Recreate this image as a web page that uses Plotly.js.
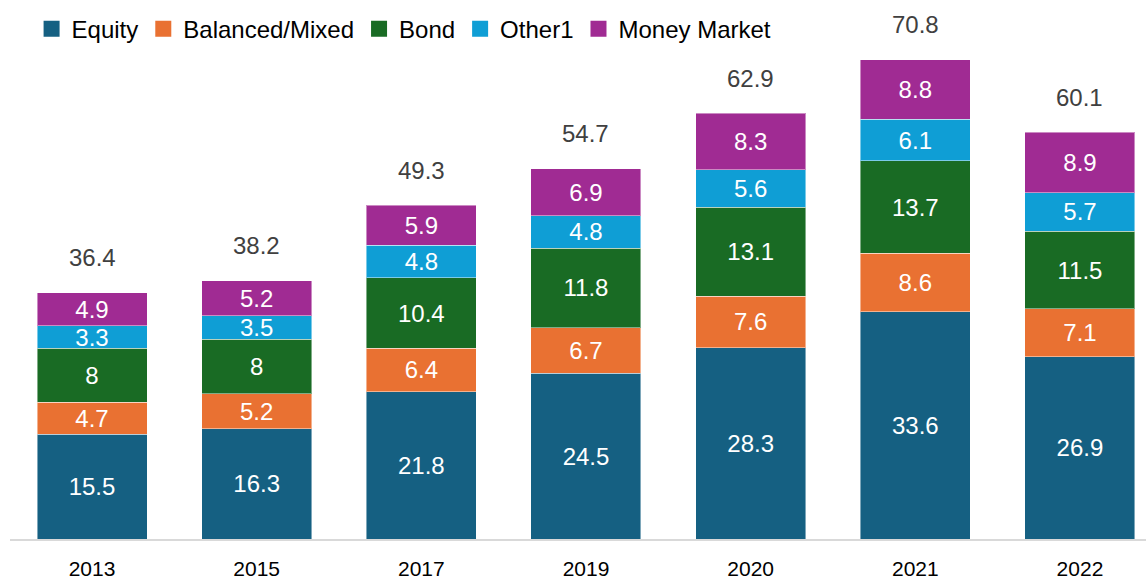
<!DOCTYPE html>
<html>
<head>
<meta charset="utf-8">
<script src="https://cdn.plot.ly/plotly-3.0.1.min.js"></script>
<style>html,body{margin:0;padding:0;background:#fff;}#chart{width:1146px;height:579px;}</style>
</head>
<body>
<div id="chart"></div>
<script>
const years = ["2013", "2015", "2017", "2019", "2020", "2021", "2022"];
const equity = [15.5, 16.3, 21.8, 24.5, 28.3, 33.6, 26.9];
const balanced = [4.7, 5.2, 6.4, 6.7, 7.6, 8.6, 7.1];
const bond = [8, 8, 10.4, 11.8, 13.1, 13.7, 11.5];
const other1 = [3.3, 3.5, 4.8, 4.8, 5.6, 6.1, 5.7];
const moneyMarket = [4.9, 5.2, 5.9, 6.9, 8.3, 8.8, 8.9];
const totals = [36.4, 38.2, 49.3, 54.7, 62.9, 70.8, 60.1];

const seriesNames = ["Equity", "Balanced/Mixed", "Bond", "Other1", "Money Market"];
const seriesValues = [equity, balanced, bond, other1, moneyMarket];
const seriesColors = ["#156082", "#E97132", "#196B24", "#0F9ED5", "#A02B93"];

const FONT = "Liberation Sans, Arial, sans-serif";
const traces = [];
seriesNames.forEach((name, i) => {
  traces.push({
    type: "bar", name: name, x: years, y: seriesValues[i],
    marker: {color: seriesColors[i], line: {color: "rgba(255,255,255,0.45)", width: 1}},
    text: seriesValues[i].map(String), textposition: "inside", insidetextanchor: "middle",
    constraintext: "none", textfont: {color: "#FFFFFF", size: 24, family: FONT},
    showlegend: false, hoverinfo: "skip"
  });
});
seriesNames.forEach((name, i) => {
  traces.push({
    type: "scatter", mode: "markers", name: name, x: [null], y: [null],
    marker: {color: seriesColors[i], symbol: "square", size: 16},
    showlegend: true, hoverinfo: "skip"
  });
});

const annotations = years.map((yr, i) => ({
  x: i, y: totals[i], xref: "x", yref: "y", text: totals[i].toFixed(1),
  showarrow: false, xanchor: "center", yanchor: "middle", yshift: 35,
  font: {size: 24, color: "#404040", family: FONT}
}));

const layout = {
  width: 1146, height: 579,
  margin: {l: 10, r: 0, t: 0, b: 40},
  paper_bgcolor: "#FFFFFF", plot_bgcolor: "#FFFFFF",
  barmode: "stack", bargap: 0.332,
  font: {family: FONT, color: "#000000"},
  xaxis: {
    type: "category", range: [-0.498, 6.401], showgrid: false, zeroline: false,
    showline: true, linecolor: "#D9D9D9", linewidth: 2, ticks: "",
    tickfont: {size: 21, color: "#000000", family: FONT}, ticklabelstandoff: 10
  },
  yaxis: {range: [0, 79.66], visible: false, showgrid: false, zeroline: false},
  showlegend: true,
  legend: {
    orientation: "h", x: 0.019, xanchor: "left", y: 0.946, yanchor: "middle",
    font: {size: 24, color: "#000000", family: FONT}, itemsizing: "trace",
    bgcolor: "rgba(0,0,0,0)", traceorder: "normal"
  },
  annotations: annotations
};

Plotly.newPlot("chart", traces, layout, {displayModeBar: false, staticPlot: true});
</script>
</body>
</html>
